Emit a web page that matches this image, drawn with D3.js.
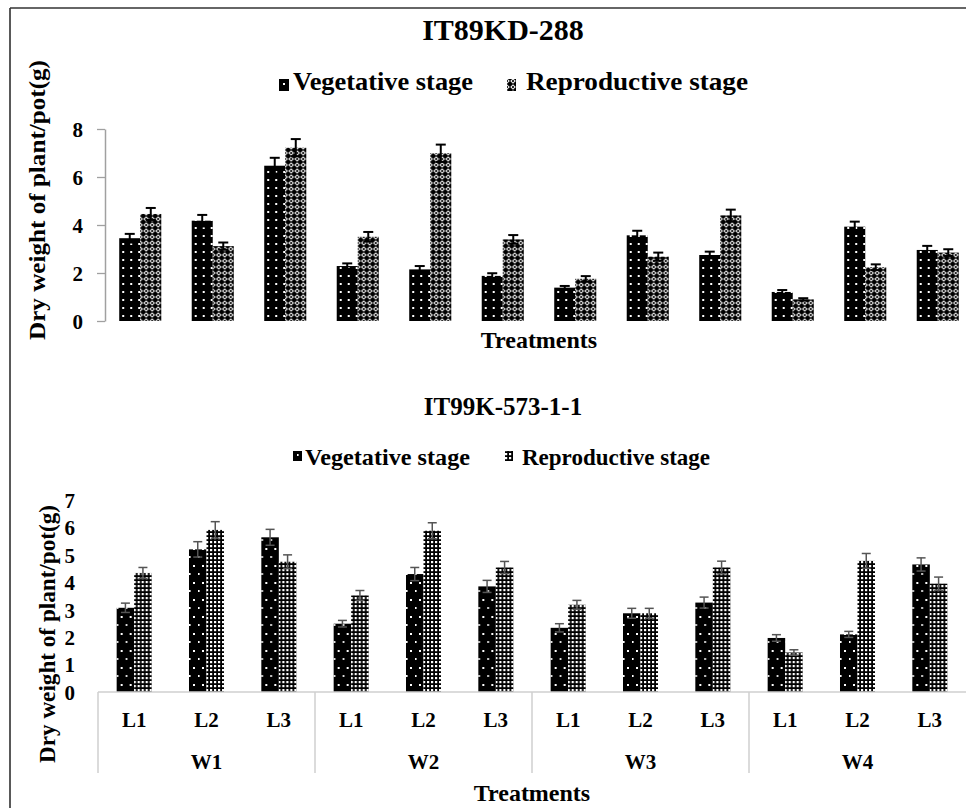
<!DOCTYPE html>
<html><head><meta charset="utf-8">
<script src="https://cdn.jsdelivr.net/npm/d3@7"></script>
<style>
body{margin:0;background:#fff}
svg text{font-family:"Liberation Serif","Times New Roman",serif;font-weight:bold;fill:#000}
</style>
</head><body>
<svg id="c" width="966" height="808"></svg>
<script>
// ---------- data ----------
const categories = ["W1-L1","W1-L2","W1-L3","W2-L1","W2-L2","W2-L3","W3-L1","W3-L2","W3-L3","W4-L1","W4-L2","W4-L3"];
const wLevels = ["W1","W2","W3","W4"];
const lLevels = ["L1","L2","L3"];
const seriesNames = ["Vegetative stage","Reproductive stage"];
const topTitle = "IT89KD-288";
const botTitle = "IT99K-573-1-1";
const topVeg    = [3.45,4.18,6.47,2.29,2.15,1.88,1.39,3.57,2.75,1.21,3.93,2.96];
const topRep    = [4.46,3.12,7.22,3.51,6.99,3.40,1.76,2.68,4.40,0.90,2.24,2.85];
const topVegErr = [0.18,0.24,0.33,0.11,0.14,0.11,0.07,0.19,0.14,0.08,0.21,0.17];
const topRepErr = [0.25,0.15,0.36,0.20,0.36,0.18,0.11,0.17,0.24,0.05,0.12,0.14];
const botVeg    = [3.07,5.20,5.64,2.49,4.30,3.85,2.34,2.87,3.26,1.97,2.10,4.65];
const botRep    = [4.34,5.91,4.75,3.52,5.88,4.54,3.18,2.87,4.54,1.44,4.78,3.95];
const botVegErr = [0.17,0.28,0.29,0.12,0.24,0.22,0.15,0.18,0.20,0.12,0.11,0.24];
const botRepErr = [0.20,0.30,0.25,0.18,0.29,0.22,0.16,0.18,0.23,0.10,0.27,0.24];
const topTicks = [0,2,4,6,8];
const botTicks = [0,1,2,3,4,5,6,7];
const yLabel = "Dry weight of plant/pot(g)";
const xLabel = "Treatments";

// ---------- patterns ----------
const svg = d3.select("#c");
const defs = svg.append("defs");
function pat(id, w, h, build){
  const p = defs.append("pattern").attr("id", id).attr("patternUnits","userSpaceOnUse")
    .attr("width", w).attr("height", h);
  build(p);
}
pat("vegTop", 8, 8, p => {
  p.append("rect").attr("width",8).attr("height",8).attr("fill","#000");
  p.append("rect").attr("x",3).attr("y",3).attr("width",2).attr("height",2).attr("fill","#fff");
});
pat("repTop", 6, 6, p => {
  p.append("rect").attr("width",6).attr("height",6).attr("fill","#000");
  p.append("path").attr("d","M3,0.2 L5.8,3 L3,5.8 L0.2,3 Z").attr("fill","#fff");
  p.append("path").attr("d","M3,1.6 L4.4,3 L3,4.4 L1.6,3 Z").attr("fill","#000");
});
pat("vegBot", 9, 17, p => {
  p.append("rect").attr("width",9).attr("height",17).attr("fill","#000");
  p.append("rect").attr("x",4).attr("y",4).attr("width",2).attr("height",2).attr("fill","#fff");
  p.append("rect").attr("x",0).attr("y",12).attr("width",1.6).attr("height",2).attr("fill","#fff");
});
pat("repBot", 4, 4, p => {
  p.append("rect").attr("width",4).attr("height",4).attr("fill","#000");
  p.append("rect").attr("x",1).attr("y",1).attr("width",2.2).attr("height",2.2).attr("fill","#fff");
});

// ---------- frame ----------
svg.append("line").attr("x1",10).attr("x2",10).attr("y1",8).attr("y2",808).attr("stroke","#222").attr("stroke-width",1.5);
svg.append("line").attr("x1",10).attr("x2",966).attr("y1",8).attr("y2",8).attr("stroke","#333").attr("stroke-width",1.5);

function panel(cfg){
  const g = svg.append("g");
  const x0 = d3.scaleBand().domain(categories).range(cfg.xRange)
    .paddingInner(cfg.padIn).paddingOuter(cfg.padIn/2);
  const x1 = d3.scaleBand().domain(seriesNames).range([0, x0.bandwidth()]);
  const y = d3.scaleLinear().domain(cfg.yDomain).range(cfg.yRange);
  const rows = categories.map((c,i)=>({c, vals:[
    {s:seriesNames[0], v:cfg.veg[i], e:cfg.vegErr[i], fill:`url(#${cfg.vegPat})`},
    {s:seriesNames[1], v:cfg.rep[i], e:cfg.repErr[i], fill:`url(#${cfg.repPat})`}]}));

  // title
  g.append("text").attr("x",cfg.titleX).attr("y",cfg.titleY).attr("text-anchor","middle")
    .attr("font-size",cfg.titleSize).text(cfg.title);
  // legend
  cfg.legend.forEach((L,i)=>{
    g.append("rect").attr("x",L.sx).attr("y",L.sy).attr("width",L.sw).attr("height",L.sh)
      .attr("fill", i===0?`url(#${cfg.vegPat})`:`url(#${cfg.repPat})`);
    g.append("text").attr("x",L.tx).attr("y",L.ty).attr("font-size",L.fs)
      .attr("textLength",L.tl).attr("lengthAdjust","spacingAndGlyphs").text(seriesNames[i]);
  });

  // y axis
  const ax = d3.axisLeft(y).tickValues(cfg.ticks).tickFormat(d3.format("d"))
    .tickSize(cfg.tickSize).tickSizeOuter(0).tickPadding(cfg.tickPad);
  const ga = g.append("g").attr("transform",`translate(${cfg.axisX},0)`).call(ax);
  ga.selectAll("text").attr("font-size",cfg.tickFont).attr("dy","0.35em");
  ga.selectAll("line").attr("stroke","#a0a0a0").attr("stroke-width",1.3);
  if(cfg.showDomain) ga.select(".domain").attr("stroke","#a0a0a0").attr("stroke-width",1.5);
  else ga.select(".domain").remove();

  // bars
  const grp = g.selectAll("g.grp").data(rows).join("g").attr("class","grp")
    .attr("transform",d=>`translate(${x0(d.c)},0)`);
  grp.selectAll("rect").data(d=>d.vals).join("rect")
    .attr("x",d=>x1(d.s)).attr("width",x1.bandwidth())
    .attr("y",d=>y(d.v)).attr("height",d=>y(0)-y(d.v))
    .attr("fill",d=>d.fill);
  // error bars
  const eb = grp.selectAll("g.eb").data(d=>d.vals).join("g").attr("class","eb")
    .attr("stroke",cfg.errColor).attr("stroke-width",cfg.errW);
  const cx = d=>x1(d.s)+x1.bandwidth()/2;
  eb.append("line").attr("x1",cx).attr("x2",cx).attr("y1",d=>y(d.v+d.e)).attr("y2",d=>y(d.v-d.e));
  eb.append("line").attr("x1",d=>cx(d)-cfg.cap/2).attr("x2",d=>cx(d)+cfg.cap/2)
    .attr("y1",d=>y(d.v+d.e)).attr("y2",d=>y(d.v+d.e));
  eb.append("line").attr("x1",d=>cx(d)-cfg.cap/2).attr("x2",d=>cx(d)+cfg.cap/2)
    .attr("y1",d=>y(d.v-d.e)).attr("y2",d=>y(d.v-d.e));

  // y label
  g.append("text").attr("transform",`translate(${cfg.ylabX},${cfg.ylabY}) rotate(-90)`)
    .attr("text-anchor","middle").attr("font-size",cfg.ylabSize)
    .attr("textLength",cfg.ylabLen).attr("lengthAdjust","spacingAndGlyphs").text(yLabel);
  // x label
  g.append("text").attr("x",(cfg.xRange[0]+cfg.xRange[1])/2).attr("y",cfg.xlabY)
    .attr("text-anchor","middle").attr("font-size",cfg.xlabSize).text(xLabel);
  return {x0,y,g};
}

// top panel
panel({
  xRange:[104,974], padIn:0.42, yDomain:[0,8], yRange:[321,129],
  veg:topVeg, rep:topRep, vegErr:topVegErr, repErr:topRepErr,
  vegPat:"vegTop", repPat:"repTop",
  title:topTitle, titleX:503, titleY:40, titleSize:30,
  legend:[{sx:279,sy:79,sw:10,sh:12,tx:293,ty:90,fs:26,tl:180},
          {sx:507,sy:79,sw:9,sh:12,tx:526,ty:90,fs:26,tl:222}],
  ticks:topTicks, tickSize:8, tickPad:14, axisX:105, tickFont:21, showDomain:true,
  errColor:"#000", errW:2, cap:10,
  ylabX:45, ylabY:200, ylabSize:23, ylabLen:280,
  xlabY:348, xlabSize:24
});

// bottom panel
const B = panel({
  xRange:[98,966], padIn:0.516, yDomain:[0,7], yRange:[692,500],
  veg:botVeg, rep:botRep, vegErr:botVegErr, repErr:botRepErr,
  vegPat:"vegBot", repPat:"repBot",
  title:botTitle, titleX:503, titleY:415, titleSize:25,
  legend:[{sx:293,sy:451,sw:9,sh:10,tx:305,ty:465,fs:23,tl:165},
          {sx:505,sy:451,sw:8,sh:10,tx:522,ty:465,fs:23,tl:188}],
  ticks:botTicks, tickSize:0, tickPad:23, axisX:98, tickFont:21, showDomain:false,
  errColor:"#555", errW:1.5, cap:9,
  ylabX:55, ylabY:634, ylabSize:23, ylabLen:258,
  xlabY:801, xlabSize:24
});

// bottom categorical (two-level) x axis
const xa = svg.append("g");
const step = B.x0.step(), r0 = B.x0.range()[0], yb = B.y(0);
xa.append("line").attr("x1",r0).attr("x2",B.x0.range()[1]).attr("y1",yb).attr("y2",yb)
  .attr("stroke","#cfcfcf").attr("stroke-width",1.5);
wLevels.forEach((w,i)=>{
  const bx = r0 + i*lLevels.length*step;
  xa.append("line").attr("x1",bx).attr("x2",bx).attr("y1",yb).attr("y2",773)
    .attr("stroke","#cfcfcf").attr("stroke-width",1.5);
  xa.append("text").attr("x",bx+lLevels.length*step/2).attr("y",769).attr("text-anchor","middle")
    .attr("font-size",21).text(w);
});
categories.forEach((c,i)=>{
  xa.append("text").attr("x",B.x0(c)+B.x0.bandwidth()/2).attr("y",727).attr("text-anchor","middle")
    .attr("font-size",21).text(lLevels[i%3]);
});
</script>
</body></html>
